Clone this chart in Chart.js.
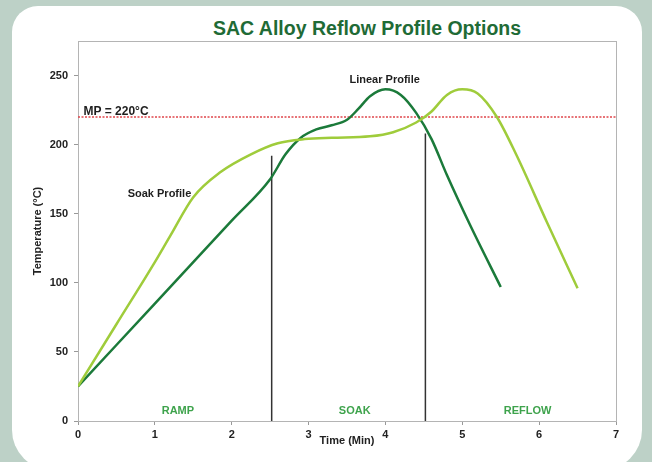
<!DOCTYPE html>
<html>
<head>
<meta charset="utf-8">
<script src="https://cdn.jsdelivr.net/npm/chart.js@4.4.0/dist/chart.umd.min.js"></script>
<style>
    html, body { margin: 0; padding: 0; }
    body {
        width: 652px; height: 462px; overflow: hidden; position: relative;
        background: #bdd1c7;
        font-family: "Liberation Sans", Arial, sans-serif;
    }
    .card {
        position: absolute; left: 12px; top: 6px; width: 630px; height: 464px;
        background: #ffffff; border-radius: 26px 26px 40px 40px;
    }
    h1 {
        position: absolute; left: 213px; width: 300px; top: 17px; margin: 0;
        text-align: center; white-space: nowrap;
        font: bold 19.5px "Liberation Sans", Arial, sans-serif; color: #1f6b36;
    }
    #chart1 { position: absolute; left: 0; top: 0; }
</style>
</head>
<body>
<div class="card"></div>
<h1>SAC Alloy Reflow Profile Options</h1>
<canvas id="chart1" width="652" height="462"></canvas>
<script>
// Soak profile (light green)
const soakTime = [0, 0.5, 1.0, 1.2, 1.5, 1.85, 2.25, 2.6, 2.95, 3.3, 3.8, 4.1, 4.4, 4.6, 4.8, 5.0, 5.2, 5.45, 5.7, 6.1, 6.5]
const soakTemp = [25, 70, 115, 134, 162, 180, 193, 201, 204, 205, 206, 209, 216, 224, 236, 240, 237, 220, 193, 144, 96]

// Linear profile (dark green)
const linearTime = [0, 1, 2, 2.5, 2.7, 2.9, 3.1, 3.3, 3.5, 3.65, 3.8, 4.0, 4.2, 4.4, 4.6, 4.8, 5.1, 5.5]
const linearTemp = [25, 85, 145, 175, 193, 205, 211, 214, 218, 226, 235, 240, 236, 223, 204, 178, 142, 97]

// melting point line
const meltTime = [0, 7]
const meltTemp = [220, 220]
const meltLabel = 'MP = 220°C'

// zone dividers and names
const zoneEdges = [2.52, 4.52]
const zoneTops = [192, 208]
const zoneNames = ['RAMP', 'SOAK', 'REFLOW']
const zoneLabelTime = [1.3, 3.6, 5.85]

const curveLabels = ['Soak Profile', 'Linear Profile']
const curveLabelTime = [1.06, 3.99]
const curveLabelTemp = [164, 247]

const xTicks = [0, 1, 2, 3, 4, 5, 6, 7]
const yTicks = [0, 50, 100, 150, 200, 250]

function toPoints(xs, ys) {
    return xs.map((x, i) => ({ x: x, y: ys[i] }))
}

const labelFont = 'bold 11px "Liberation Sans", Arial, sans-serif'

const textPlugin = {
    id: 'chartText',
    beforeDatasetsDraw(chart) {
        const { ctx, chartArea } = chart
        ctx.save()
        ctx.strokeStyle = '#b4b4b4'
        ctx.lineWidth = 1
        ctx.strokeRect(chartArea.left + 0.5, chartArea.top + 0.5, chartArea.right - chartArea.left, chartArea.bottom - chartArea.top)
        ctx.restore()
    },
    afterDatasetsDraw(chart) {
        const { ctx, scales: { x, y } } = chart
        ctx.save()
        ctx.textBaseline = 'middle'

        // MP label
        ctx.font = 'bold 12px "Liberation Sans", Arial, sans-serif'
        ctx.fillStyle = '#1e1e1e'
        ctx.textAlign = 'left'
        ctx.fillText(meltLabel, x.getPixelForValue(0.07), y.getPixelForValue(224))

        // curve names
        ctx.font = labelFont
        ctx.textAlign = 'center'
        curveLabels.forEach((name, i) => {
            ctx.fillText(name, x.getPixelForValue(curveLabelTime[i]), y.getPixelForValue(curveLabelTemp[i]))
        })

        // zone names
        ctx.fillStyle = '#3ea34c'
        zoneNames.forEach((name, i) => {
            ctx.fillText(name, x.getPixelForValue(zoneLabelTime[i]), y.getPixelForValue(7))
        })
        ctx.restore()
    }
}

const datasets = [
    {
        label: 'Soak Profile',
        data: toPoints(soakTime, soakTemp),
        borderColor: '#9fcc3b',
        borderWidth: 2.5,
        pointRadius: 0,
        cubicInterpolationMode: 'monotone'
    },
    {
        label: 'Linear Profile',
        data: toPoints(linearTime, linearTemp),
        borderColor: '#1b7a3a',
        borderWidth: 2.5,
        pointRadius: 0,
        cubicInterpolationMode: 'monotone'
    },
    {
        label: 'MP',
        data: toPoints(meltTime, meltTemp),
        borderColor: '#e0464b',
        borderWidth: 1.5,
        borderDash: [2, 1.5],
        pointRadius: 0
    }
]

zoneEdges.forEach((edge, i) => {
    datasets.push({
        label: 'zone' + i,
        data: toPoints([edge, edge], [0, zoneTops[i]]),
        borderColor: '#333333',
        borderWidth: 1.5,
        pointRadius: 0
    })
})

const ctx = document.querySelector('#chart1').getContext('2d')
const chart1 = new Chart(ctx, {
    type: 'line',
    data: { datasets: datasets },
    options: {
        responsive: false,
        animation: false,
        layout: {
            padding: { top: 41, right: 36, left: 0, bottom: 0 }
        },
        plugins: {
            legend: { display: false },
            tooltip: { enabled: false }
        },
        scales: {
            x: {
                type: 'linear',
                min: 0,
                max: 7,
                afterFit: (scale) => { scale.height = 41 },
                afterBuildTicks: (scale) => { scale.ticks = xTicks.map(v => ({ value: v })) },
                ticks: {
                    stepSize: 1,
                    color: '#222',
                    padding: 3,
                    maxRotation: 0,
                    font: { family: '"Liberation Sans", Arial, sans-serif', size: 11, weight: 'bold' }
                },
                grid: { drawOnChartArea: false, tickLength: 4, color: '#999' },
                border: { color: '#b4b4b4' },
                title: {
                    display: true,
                    text: 'Time (Min)',
                    color: '#222',
                    padding: { top: 0, bottom: 14 },
                    font: { family: '"Liberation Sans", Arial, sans-serif', size: 11, weight: 'bold' }
                }
            },
            y: {
                min: 0,
                max: 275,
                afterFit: (scale) => { scale.width = 78 },
                afterBuildTicks: (scale) => { scale.ticks = yTicks.map(v => ({ value: v })) },
                ticks: {
                    stepSize: 50,
                    color: '#222',
                    padding: 6,
                    font: { family: '"Liberation Sans", Arial, sans-serif', size: 11, weight: 'bold' }
                },
                grid: { drawOnChartArea: false, tickLength: 4, color: '#999' },
                border: { color: '#b4b4b4' },
                title: {
                    display: true,
                    text: 'Temperature (°C)',
                    color: '#222',
                    padding: { top: 31, bottom: 0 },
                    font: { family: '"Liberation Sans", Arial, sans-serif', size: 11, weight: 'bold' }
                }
            }
        }
    },
    plugins: [textPlugin]
})
</script>
</body>
</html>
